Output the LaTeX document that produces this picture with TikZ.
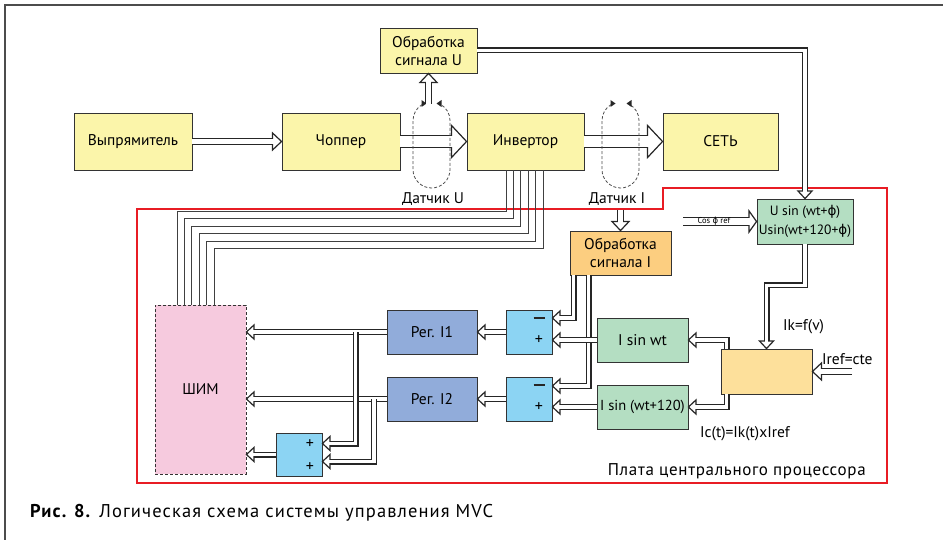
\documentclass[tikz,border=0pt]{standalone}
\usepackage{fontspec}
\setmainfont{PT Sans}
\newfontfamily\greekfont{DejaVu Sans}
\usetikzlibrary{calc, positioning}

\definecolor{boxyellow}{RGB}{251,245,170}
\definecolor{boxorange}{RGB}{252,206,128}
\definecolor{ctrlorange}{RGB}{253,224,155}
\definecolor{boxgreen}{RGB}{180,222,194}
\definecolor{boxblue}{RGB}{145,172,218}
\definecolor{cmpblue}{RGB}{140,212,243}
\definecolor{shimpink}{RGB}{246,202,222}
\definecolor{boardred}{RGB}{232,28,36}

% head sizes (length, half width) for each kind of hollow connector
\def\dblL{7.5}\def\dblW{7}
\def\midL{9}\def\midW{8.5}
\def\fatL{7.5}\def\fatW{10.5}
\def\wideL{15}\def\wideW{16}

% hollow connector: kind, tip point, direction, body path ending at (tipE)
\newcommand\pipe[4]{%
  \edef\tipL{\csname #1L\endcsname}\edef\tipW{\csname #1W\endcsname}%
  \coordinate (tipP) at (#2);
  \coordinate (tipE) at ($(tipP)+({-\tipL*cos(#3)},{\tipL*sin(#3)})$);
  \draw[#1out] #4;
  \draw[tipline] (tipP) -- ($(tipE)+({\tipW*sin(#3)},{\tipW*cos(#3)})$)
    -- ($(tipE)+({-\tipW*sin(#3)},{-\tipW*cos(#3)})$) -- cycle;
  \coordinate (tipE) at ($(tipP)+({-(\tipL-1.6)*cos(#3)},{(\tipL-1.6)*sin(#3)})$);
  \draw[#1in] #4;}

\tikzset{
  blk/.style={draw=black!80, line width=0.9pt, align=center, inner sep=1pt, font=\fontsize{15.5}{18}\selectfont},
  wh/.style 2 args={minimum width=#1, minimum height=#2},
  lbl/.style={inner sep=0pt, font=\fontsize{15.5}{17}\selectfont},
  sym/.style={inner sep=0pt, font=\fontsize{16}{17}\selectfont},
  dblout/.style={draw=black!85, line width=6pt},
  dblin/.style={draw=white, line width=3.6pt},
  midout/.style={draw=black!85, line width=7.9pt},
  midin/.style={draw=white, line width=5.5pt},
  fatout/.style={draw=black!85, line width=9.9pt},
  fatin/.style={draw=white, line width=7.5pt},
  wideout/.style={draw=black!85, line width=13.9pt},
  widein/.style={draw=white, line width=11.5pt},
  tipline/.style={draw=black!85, line width=1.2pt, fill=white},
  wire/.style={draw=black!75, line width=1pt},
  sensor/.style={draw=black!70, line width=0.8pt, dash pattern=on 3pt off 2pt},
  board/.style={draw=boardred, line width=2pt},
}

\begin{document}
\begin{tikzpicture}[x=1pt, y=-1pt]
\useasboundingbox (0,0) rectangle (943,540);
\draw[draw=black!70, line width=1.3pt] (5,540) -- (5,5) -- (943,5);

% power stage
\node[blk, fill=boxyellow, wh={118}{57}] (vyp)  at (133,141.5) {Выпрямитель};
\node[blk, fill=boxyellow, wh={118}{57}] (chop) at (341,141.5) {Чоппер};
\node[blk, fill=boxyellow, wh={117}{57}] (inv)  at (525.5,141.5) {Инвертор};
\node[blk, fill=boxyellow, wh={115}{57}] (net)  at (720.5,141.5) {СЕТЬ};
\node[blk, fill=boxyellow, wh={97}{45}]  (obrU) at (428.5,50.5) {Обработка\\сигнала U};

\pipe{mid}{chop.west}{0}{(vyp.east) -- (tipE)}
\pipe{wide}{inv.west}{0}{(chop.east) -- (tipE)}
\pipe{wide}{net.west}{0}{(inv.east) -- (tipE)}

% sensors
\draw[sensor] (422.25,104.5) arc[start angle=240, end angle=180, radius=18.5]
  -- (413,169.5) arc[start angle=180, end angle=0, radius=18.5]
  -- (450,120.5) arc[start angle=0, end angle=-60, radius=18.5];
\draw[sensor] (611.25,104.5) arc[start angle=240, end angle=180, radius=18.5]
  -- (602,169.5) arc[start angle=180, end angle=0, radius=18.5]
  -- (639,120.5) arc[start angle=0, end angle=-60, radius=18.5];
\fill[black!85] (421.5,100) -- (426.5,103.5) -- (421.5,107) -- cycle;
\fill[black!85] (441.5,100) -- (436.5,103.5) -- (441.5,107) -- cycle;
\fill[black!85] (610.5,100) -- (615.5,103.5) -- (610.5,107) -- cycle;
\fill[black!85] (631.5,100) -- (626.5,103.5) -- (631.5,107) -- cycle;
\node[lbl] (dUlbl) at (433,199) {Датчик U};
\node[lbl] (dIlbl) at (617,199) {Датчик I};
\coordinate (dUout) at (428.5,104);
\coordinate (dIout) at (620.5,210);
\pipe{mid}{obrU.south}{90}{(dUout) -- (tipE)}

% control board
\draw[board] (137,209) -- (663,209) -- (663,188) -- (887,188) -- (887,483) -- (137,483) -- cycle;
\node[anchor=base east, inner sep=0pt, font=\fontsize{17}{19}\selectfont\addfontfeature{LetterSpace=4}] (brd) at (866,475) {Плата центрального процессора};

\node[blk, fill=boxgreen, wh={96}{45}, font=\fontsize{13.5}{19}\selectfont] (usin) at (805,221.5) {U sin (wt+{\greekfont ϕ})\\Usin(wt+120+{\greekfont ϕ})};
\node[blk, fill=boxorange, wh={101}{44}] (obrI) at (620.5,253) {Обработка\\сигнала I};
\node[blk, fill=shimpink, wh={91}{169}, dash pattern=on 3pt off 2pt] (shim) at (200.5,389.5) {ШИМ};
\node[blk, fill=boxblue, wh={90}{44}] (reg1) at (432,332) {Рег. I1};
\node[blk, fill=boxblue, wh={90}{44}] (reg2) at (432,399) {Рег. I2};
\node[blk, fill=cmpblue, wh={46}{44}] (cmp1) at (529,332) {};
\node[blk, fill=cmpblue, wh={46}{44}] (cmp2) at (529,399) {};
\node[blk, fill=cmpblue, wh={46}{43}] (sum) at (299,454.5) {};
\node[blk, fill=boxgreen, wh={91}{44}] (isin1) at (642.5,340) {I sin wt};
\node[blk, fill=boxgreen, wh={91}{44}, font=\fontsize{14.5}{17}\selectfont] (isin2) at (642.5,407) {I sin (wt+120)};
\node[blk, fill=ctrlorange, wh={91}{45}] (ctrl) at (766.5,371.5) {};

\node[sym] (c1m) at ($(cmp1.center)+(10,-14)$) {\color{black!85}\rule{11pt}{2.2pt}};
\node[sym] (c1p) at ($(cmp1.center)+(10,8)$) {+};
\node[sym] (c2m) at ($(cmp2.center)+(10,-14)$) {\color{black!85}\rule{11pt}{2.2pt}};
\node[sym] (c2p) at ($(cmp2.center)+(10,8)$) {+};
\node[sym] (s1p) at ($(sum.center)+(11,-10.5)$) {+};
\node[sym] (s2p) at ($(sum.center)+(11,12.5)$) {+};

% inverter gate wires
\foreach \i in {0,...,5}
  \draw[wire] ($(inv.south)+({-19.5+7.4*\i},0)$) |- ($(shim.north)+({-23.5+7.4*\i},{-93.5+7.5*\i})$)
    -- ($(shim.north)+({-23.5+7.4*\i},0)$);

% signal paths
\pipe{mid}{obrI.north}{-90}{(dIout) -- (tipE)}
\pipe{dbl}{usin.north}{-90}{(obrU.east) -| (tipE)}
\coordinate (cosin) at (683,221.5);
\pipe{fat}{usin.west}{0}{(cosin) -- (tipE)}
\node[inner sep=0pt, font=\fontsize{8.5}{9}\selectfont] (coslbl) at (714,221) {Cos {\greekfont ϕ} ref};
\pipe{dbl}{ctrl.north}{-90}{(usin.south) -- ++(0,41) -| (tipE)}
\node[lbl, anchor=west] (iklbl) at (783,327) {Ik=f(v)};
\coordinate (irefin) at (852,371.5);
\pipe{mid}{ctrl.east}{180}{(irefin) -- (tipE)}
\node[lbl, anchor=west] (ireflbl) at (822,359) {Iref=cte};
\pipe{dbl}{isin1.east}{180}{($(ctrl.north west)+(6,0)$) |- (tipE)}
\pipe{dbl}{isin2.east}{180}{($(ctrl.south west)+(6,0)$) |- (tipE)}
\node[lbl, anchor=west] (iclbl) at (700,434) {Ic(t)=Ik(t)xIref};

\pipe{dbl}{$(cmp1.east)+(0,-14)$}{180}{($(obrI.south west)+(4,0)$) |- (tipE)}
\pipe{dbl}{$(cmp2.east)+(0,-13)$}{180}{($(obrI.south west)+(19,0)$) |- (tipE)}
\pipe{dbl}{isin1.west -| cmp1.east}{180}{(isin1.west) -- (tipE)}
\pipe{dbl}{isin2.west -| cmp2.east}{180}{(isin2.west) -- (tipE)}
\pipe{dbl}{reg1.east}{180}{(cmp1.west) -- (tipE)}
\pipe{dbl}{reg2.east}{180}{(cmp2.west) -- (tipE)}
\pipe{dbl}{reg1.west -| shim.east}{180}{(reg1.west) -- (tipE)}
\pipe{dbl}{reg2.west -| shim.east}{180}{(reg2.west) -- (tipE)}
\pipe{dbl}{sum.west -| shim.east}{180}{(sum.west) -- (tipE)}
\pipe{dbl}{$(sum.east)+(0,-11)$}{180}{($(reg1.west)+(-31,0)$) |- (tipE)}
\pipe{dbl}{$(sum.east)+(0,7)$}{180}{($(reg2.west)+(-12.5,0)$) |- (tipE)}

% caption
\node[anchor=base west, inner sep=0pt, font=\fontsize{18.5}{20}\selectfont\addfontfeature{LetterSpace=6}] (cap) at (30,517)
  {\textbf{Рис. 8.} Логическая схема системы управления MVC};
\end{tikzpicture}
\end{document}
